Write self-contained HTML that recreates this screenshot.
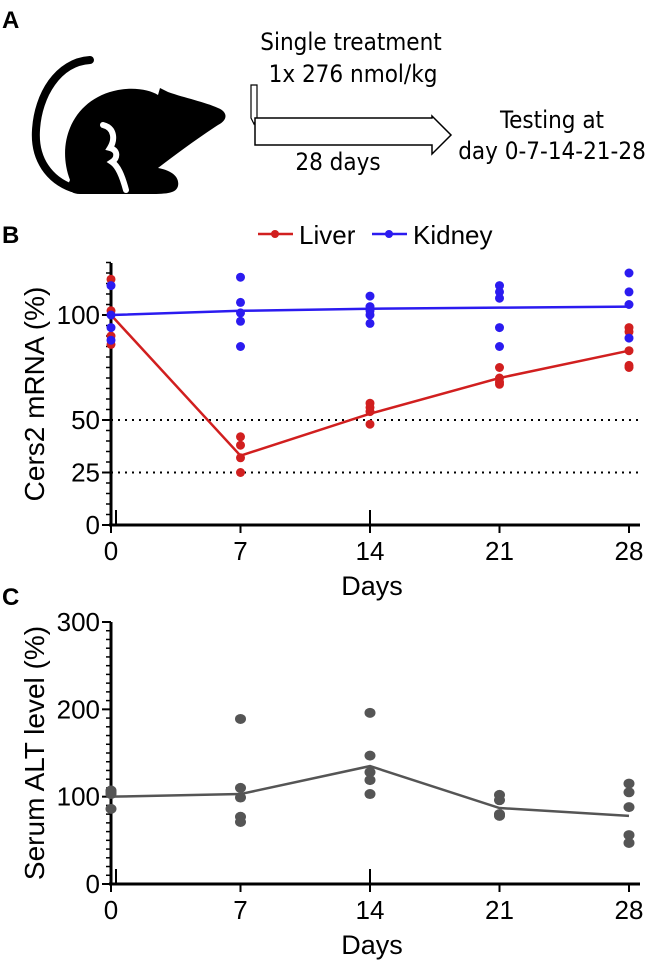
<!DOCTYPE html>
<html><head><meta charset="utf-8"><style>
body{margin:0;background:#fff;}
svg{display:block;font-family:"Liberation Sans",sans-serif;}
.ca{font-family:"DejaVu Sans Condensed","Liberation Sans Narrow","Liberation Sans",sans-serif;}
</style></head><body>
<svg id="fig" width="665" height="961" viewBox="0 0 665 961">
<g>
<text x="2" y="28" font-size="24" font-weight="bold">A</text>
<g>
<path d="M90,60 C58,62 38,95 36,130 C34,160 50,180 72,188" fill="none" stroke="#000" stroke-width="8" stroke-linecap="round"/>
<path d="M70,180 C55,140 75,98 118,90 C135,87 150,90 158,95 L160,88 L168,92 C185,98 205,102 218,108 C228,112 228,120 218,125 C195,140 175,155 158,168 C170,170 180,176 178,186 C176,193 168,194 150,194 L80,194 C70,194 66,188 70,180 Z" fill="#000"/>
<path d="M103,125 C115,128 115,140 110,148 C118,150 118,158 112,162 C118,166 122,175 126,190" fill="none" stroke="#fff" stroke-width="6" stroke-linecap="round"/>
</g>
<text x="351" y="50" font-size="24" text-anchor="middle" class="ca">Single treatment</text>
<text x="353" y="82" font-size="24" text-anchor="middle" class="ca">1x 276 nmol/kg</text>
<path d="M251,85 L257,85 L257,118 L254,124 L251,118 Z" fill="#fff" stroke="#000" stroke-width="1.2"/>
<path d="M255,118 L432,118 L432,116 L451,135 L432,154 L432,145 L255,145 Z" fill="#fff" stroke="#000" stroke-width="1.5"/>
<text x="338" y="170" font-size="24" text-anchor="middle" class="ca">28 days</text>
<text x="552" y="128" font-size="24" text-anchor="middle" class="ca">Testing at</text>
<text x="552" y="159" font-size="24" text-anchor="middle" class="ca">day 0-7-14-21-28</text>
</g>
<g id="pb">
<text x="2" y="243" font-size="24" font-weight="bold">B</text>
</g>
<g id="pc">
<text x="2" y="605" font-size="24" font-weight="bold">C</text>
</g>
</svg>
<script>
const days=[0,7,14,21,28];
const liverPts=[[117,102,90,86],[42,38,32,25],[58,56,54,48],[75,70,67,68],[94,92,83,76,75]];
const kidneyPts=[[114,94,88,100],[118,106,101,97,85],[109,104,100,96,102],[114,111,108,94,85],[120,111,105,89]];
const liverMean=[100,33,53,70,83];
const kidneyMean=[100,102,103,103.5,104];
const bTicks=[0,25,50,100];
const altPts=[[107,103,86,105],[189,110,99,77,71],[196,147,128,119,103],[102,96,80,78],[115,105,88,56,47]];
const altMean=[100,103,135,87,78];
const cTicks=[0,100,200,300];
const NS='http://www.w3.org/2000/svg';
function mk(p,t,a){const e=document.createElementNS(NS,t);for(const k in a)e.setAttribute(k,a[k]);p.appendChild(e);return e;}
const xs=d=>111+d*(518/28);
function axes(g,ys,ymax,ticks,minorStep,ytop,ylabel,ylx){
  const y0=ys(0);
  const ya=mk(g,'line',{x1:111,y1:ytop,x2:111,y2:y0+1,stroke:'#000','stroke-width':3});
  
  const xa=mk(g,'line',{x1:109,y1:y0,x2:640,y2:y0,stroke:'#000','stroke-width':3});
  
  for(let v=0;v<=ymax;v+=minorStep){mk(g,'line',{x1:106,y1:ys(v),x2:111,y2:ys(v),stroke:'#000','stroke-width':1.5});}
  ticks.forEach(v=>{
    mk(g,'line',{x1:102,y1:ys(v),x2:111,y2:ys(v),stroke:'#000','stroke-width':2});
    const t=mk(g,'text',{x:100,y:ys(v)+9,'font-size':26,'text-anchor':'end'});t.textContent=v;
    
  });
  days.forEach(d=>{
    mk(g,'line',{x1:xs(d),y1:y0,x2:xs(d),y2:y0+8,stroke:'#000','stroke-width':2});
    const t=mk(g,'text',{x:xs(d),y:y0+35,'font-size':26,'text-anchor':'middle'});t.textContent=d;
    
  });
  mk(g,'line',{x1:116,y1:y0-15,x2:116,y2:y0,stroke:'#000','stroke-width':2});
  mk(g,'line',{x1:xs(14),y1:y0-15,x2:xs(14),y2:y0,stroke:'#000','stroke-width':2});
  const xl=mk(g,'text',{x:372,y:y0+70,'font-size':27,'text-anchor':'middle'});xl.textContent='Days';
  
  const cy=(ytop+y0)/2;
  const yl=mk(g,'text',{x:ylx,y:cy,'font-size':28,'text-anchor':'middle',transform:`rotate(-90 ${ylx} ${cy})`});yl.textContent=ylabel;
  
}
function series(g,pts,mean,ys,col,name,rx,ry){
  const l=mk(g,'polyline',{points:mean.map((v,i)=>xs(days[i])+','+ys(v)).join(' '),fill:'none',stroke:col,'stroke-width':2.5});
  
  pts.forEach((arr,i)=>arr.forEach(v=>{
    const c=mk(g,'ellipse',{cx:xs(days[i]),cy:ys(v),rx:rx,ry:ry,fill:col});
    
  }));
}
// Panel B
const gb=document.getElementById('pb');
const ysB=v=>525-v*2.1;
[50,25].forEach(v=>{const l=mk(gb,'line',{x1:111,y1:ysB(v),x2:640,y2:ysB(v),stroke:'#000','stroke-width':2,'stroke-dasharray':'2 5'});
});
axes(gb,ysB,125,bTicks,5,263,'Cers2 mRNA (%)',44);
series(gb,liverPts,liverMean,ysB,'#d11f1f','liver',4.5,4.5);
series(gb,kidneyPts,kidneyMean,ysB,'#2b1bf0','kidney',4.5,4.5);
const lg=mk(gb,'g',{});
[['Liver','#d11f1f',258],['Kidney','#2b1bf0',372]].forEach(([n,c,x])=>{
  const e=mk(lg,'g',{});
  mk(e,'line',{x1:x,y1:234,x2:x+35,y2:234,stroke:c,'stroke-width':2.5});
  mk(e,'circle',{cx:x+17,cy:234,r:4,fill:c});
  const t=mk(e,'text',{x:x+41,y:244,'font-size':26});t.textContent=n;
});
// Panel C
const gc=document.getElementById('pc');
const ysC=v=>884-v*(262/300);
axes(gc,ysC,300,cTicks,10,622,'Serum ALT level (%)',44);
series(gc,altPts,altMean,ysC,'#555555','alt',5.5,5);
</script>
</body></html>
